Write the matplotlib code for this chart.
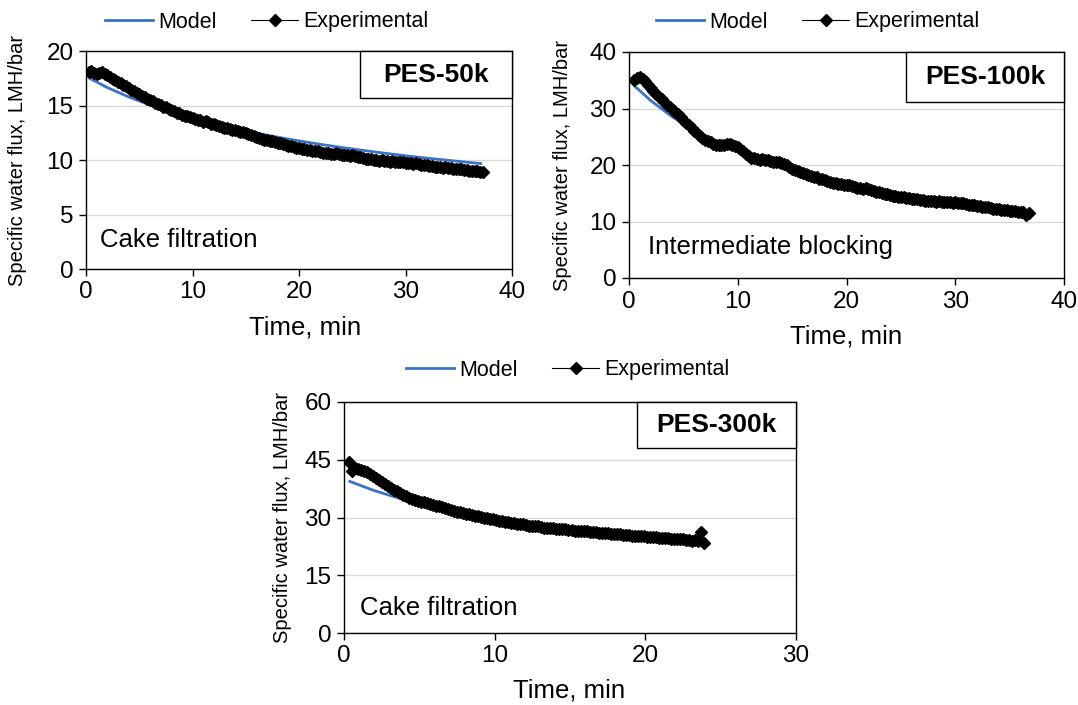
import numpy as np
import matplotlib
matplotlib.use("Agg")
import matplotlib.pyplot as plt
from matplotlib.patches import Rectangle
from matplotlib.lines import Line2D

plt.rcParams["font.family"] = ["Liberation Sans", "DejaVu Sans"]

# ---------------- data ----------------
# PES-50k: experimental flux sampled every 0.25 min from 0.25 to 37.25 min
pes50_exp_t_range = (0.25, 37.25)
pes50_exp = [
    18.10, 18.20, 18.05, 17.92, 18.02, 18.08, 17.95, 17.80,
    17.62, 17.50, 17.38, 17.22, 17.08, 16.95, 16.78, 16.62,
    16.45, 16.33, 16.18, 16.05, 15.92, 15.80, 15.66, 15.52,
    15.40, 15.30, 15.15, 15.05, 14.92, 14.85, 14.70, 14.58,
    14.50, 14.38, 14.30, 14.20, 14.10, 14.05, 13.95, 13.88,
    13.80, 13.72, 13.68, 13.55, 13.60, 13.48, 13.35, 13.30,
    13.20, 13.12, 13.08, 13.00, 12.95, 12.90, 12.82, 12.75,
    12.70, 12.62, 12.55, 12.50, 12.40, 12.30, 12.22, 12.15,
    12.05, 11.95, 11.90, 11.88, 11.80, 11.72, 11.70, 11.62,
    11.55, 11.45, 11.40, 11.35, 11.30, 11.22, 11.15, 11.10,
    11.05, 11.00, 10.98, 10.90, 10.85, 10.88, 10.80, 10.72,
    10.70, 10.65, 10.68, 10.60, 10.58, 10.62, 10.55, 10.50,
    10.52, 10.48, 10.42, 10.45, 10.38, 10.30, 10.25, 10.20,
    10.15, 10.10, 10.08, 10.02, 10.00, 9.95, 9.98, 9.92,
    9.90, 9.88, 9.92, 9.85, 9.82, 9.86, 9.80, 9.78,
    9.75, 9.72, 9.68, 9.70, 9.62, 9.60, 9.55, 9.52,
    9.48, 9.45, 9.40, 9.42, 9.38, 9.32, 9.35, 9.28,
    9.25, 9.22, 9.18, 9.20, 9.15, 9.10, 9.12, 9.05,
    9.02, 8.98, 9.00, 8.95, 8.90,
]
pes50_model_t = [0.3, 2, 4, 6, 8, 10, 12, 14, 16, 18, 20, 22, 24, 26, 28, 30, 32, 34, 36, 37.2]
pes50_model = [17.54, 16.68, 15.82, 15.08, 14.43, 13.86, 13.36, 12.90, 12.49, 12.12,
               11.77, 11.46, 11.17, 10.90, 10.65, 10.41, 10.19, 9.99, 9.79, 9.68]

# PES-100k: experimental flux sampled every 0.25 min from 0.5 to 36.75 min
pes100_exp_t_range = (0.5, 36.75)
pes100_exp = [
    35.0, 35.4, 35.6, 35.3, 34.8, 34.2, 33.6, 33.1,
    32.6, 32.1, 31.6, 31.1, 30.7, 30.2, 29.8, 29.4,
    29.0, 28.5, 28.0, 27.5, 27.0, 26.5, 26.0, 25.6,
    25.2, 24.8, 24.5, 24.2, 24.0, 23.8, 23.6, 23.5,
    23.6, 23.5, 23.7, 23.8, 23.6, 23.4, 23.2, 22.8,
    22.4, 22.0, 21.6, 21.3, 21.2, 21.0, 20.9, 21.0,
    20.8, 20.9, 20.7, 20.6, 20.5, 20.6, 20.3, 20.2,
    20.0, 19.6, 19.3, 19.1, 18.9, 18.7, 18.5, 18.4,
    18.2, 18.0, 17.9, 17.8, 17.6, 17.5, 17.4, 17.2,
    17.0, 16.9, 16.8, 16.7, 16.6, 16.5, 16.4, 16.5,
    16.3, 16.1, 16.0, 15.9, 15.8, 15.9, 15.7, 15.5,
    15.4, 15.3, 15.2, 15.0, 14.9, 14.8, 14.7, 14.6,
    14.5, 14.4, 14.3, 14.3, 14.2, 14.1, 14.0, 14.0,
    13.9, 13.8, 13.8, 13.7, 13.7, 13.6, 13.6, 13.5,
    13.6, 13.5, 13.4, 13.5, 13.4, 13.3, 13.4, 13.3,
    13.2, 13.2, 13.1, 13.0, 12.9, 12.9, 12.8, 12.7,
    12.6, 12.5, 12.5, 12.4, 12.3, 12.3, 12.2, 12.1,
    12.0, 12.0, 11.9, 11.8, 11.8, 11.7, 11.6, 11.6,
    11.2, 11.5,
]
pes100_model_t = [0.5, 2, 4, 6, 8, 10, 12, 14, 16, 18, 20, 22, 24, 26, 28, 30, 32, 34, 36, 36.7]
pes100_model = [34.0, 31.4, 28.5, 26.0, 24.0, 22.4, 21.0, 19.8, 18.6, 17.6,
                16.7, 15.9, 15.1, 14.4, 13.9, 13.4, 12.9, 12.4, 11.9, 11.7]

# PES-300k: experimental flux sampled every 0.2 min from 0.3 to 23.9 min
pes300_exp_t_range = (0.3, 23.9)
pes300_exp = [
    44.3, 42.2, 42.8, 42.6, 42.3, 42.0, 41.7, 41.2, 40.8, 40.3,
    39.8, 39.2, 38.7, 38.2, 37.7, 37.2, 36.8, 36.3, 35.9, 35.5,
    35.1, 34.8, 34.5, 34.3, 34.1, 33.9, 33.7, 33.5, 33.3, 33.1,
    32.9, 32.6, 32.4, 32.2, 32.0, 31.7, 31.5, 31.3, 31.1, 30.9,
    30.8, 30.6, 30.5, 30.3, 30.2, 30.0, 29.9, 29.7, 29.6, 29.4,
    29.2, 29.0, 28.9, 28.8, 28.6, 28.5, 28.4, 28.3, 28.2, 28.0,
    27.9, 27.8, 27.7, 27.7, 27.5, 27.4, 27.4, 27.3, 27.2, 27.1,
    27.0, 27.0, 26.9, 26.8, 26.7, 26.6, 26.6, 26.5, 26.4, 26.4,
    26.3, 26.2, 26.2, 26.1, 26.0, 25.9, 25.9, 25.8, 25.7, 25.7,
    25.6, 25.5, 25.5, 25.4, 25.3, 25.3, 25.2, 25.1, 25.1, 25.0,
    25.0, 24.9, 24.9, 24.8, 24.7, 24.7, 24.6, 24.5, 24.5, 24.4,
    24.3, 24.3, 24.2, 24.1, 24.0, 24.2, 24.0, 26.2, 23.5,
]
pes300_model_t = [0.3, 2, 4, 6, 8, 10, 12, 14, 16, 18, 20, 22, 24]
pes300_model = [39.5, 37.0, 34.58, 32.59, 30.90, 29.46, 28.19, 27.08, 26.09, 25.20, 24.40, 23.67, 23.00]

# ---------------- layout ----------------
MODEL_COLOR = "#3a73c4"
W, H = 1078, 705
fig = plt.figure(figsize=(W / 100, H / 100), dpi=100)

panels = [
    dict(rect=(86, 51.4, 512, 269), membrane="PES-50k", mech="Cake filtration",
         exp=pes50_exp, trange=pes50_exp_t_range, mt=pes50_model_t, mv=pes50_model,
         xlim=(0, 40), xticks=[0, 10, 20, 30, 40], ylim=(0, 20), yticks=[0, 5, 10, 15, 20],
         box=(0.643, 0.785), mech_pos=(0.033, 0.133), ylab_x=-0.16, xlab=(0.515, -0.27),
         leg=(267, 22)),
    dict(rect=(629, 52, 1064, 278), membrane="PES-100k", mech="Intermediate blocking",
         exp=pes100_exp, trange=pes100_exp_t_range, mt=pes100_model_t, mv=pes100_model,
         xlim=(0, 40), xticks=[0, 10, 20, 30, 40], ylim=(0, 40), yticks=[0, 10, 20, 30, 40],
         box=(0.637, 0.78), mech_pos=(0.044, 0.137), ylab_x=-0.152, xlab=(0.5, -0.26),
         leg=(818, 22)),
    dict(rect=(344, 402, 796, 633), membrane="PES-300k", mech="Cake filtration",
         exp=pes300_exp, trange=pes300_exp_t_range, mt=pes300_model_t, mv=pes300_model,
         xlim=(0, 30), xticks=[0, 10, 20, 30], ylim=(0, 60), yticks=[0, 15, 30, 45, 60],
         box=(0.648, 0.80), mech_pos=(0.035, 0.108), ylab_x=-0.135, xlab=(0.497, -0.247),
         leg=(568, 370)),
]

TICK_FS = 17.5
LEG_FS = 15.5
XLAB_FS = 18.5

for p in panels:
    x0, y0, x1, y1 = p["rect"]
    ax = fig.add_axes([x0 / W, 1 - y1 / H, (x1 - x0) / W, (y1 - y0) / H])

    t_exp = np.linspace(p["trange"][0], p["trange"][1], len(p["exp"]))
    ax.plot(p["mt"], p["mv"], color=MODEL_COLOR, lw=2.0, zorder=3, solid_capstyle="butt")
    ax.plot(t_exp, p["exp"], color="black", lw=0.8, marker="D", ms=6.5,
            mec="black", mfc="black", zorder=4)

    ax.set_xlim(*p["xlim"])
    ax.set_ylim(*p["ylim"])
    ax.set_xticks(p["xticks"])
    ax.set_yticks(p["yticks"])
    ax.tick_params(direction="out", length=5, width=1, labelsize=TICK_FS, pad=4, color="black")
    ax.grid(axis="y", color="#d9d9d9", lw=1)
    ax.set_axisbelow(True)
    for s in ax.spines.values():
        s.set_color("black")
        s.set_linewidth(1.0)

    ax.set_xlabel("Time, min", fontsize=XLAB_FS)
    ax.xaxis.set_label_coords(*p["xlab"])
    ax.xaxis.label.set_va("center")
    ax.set_ylabel("Specific water flux, LMH/bar", fontsize=14.5)
    ax.yaxis.set_label_coords(p["ylab_x"], 0.5)
    ax.yaxis.label.set_va("center")

    bx, by = p["box"]
    ax.add_patch(Rectangle((bx, by), 1 - bx, 1 - by, transform=ax.transAxes,
                           facecolor="white", edgecolor="black", lw=1.0, zorder=6,
                           clip_on=False))
    ax.text((bx + 1) / 2, (by + 1) / 2, p["membrane"], transform=ax.transAxes,
            ha="center", va="center", fontsize=19, fontweight="bold", zorder=7)
    ax.text(p["mech_pos"][0], p["mech_pos"][1], p["mech"], transform=ax.transAxes,
            ha="left", va="center", fontsize=18.5, zorder=7)

    handles = [
        Line2D([], [], color=MODEL_COLOR, lw=2.0),
        Line2D([], [], color="black", lw=0.8, marker="D", ms=6),
    ]
    lx, ly = p["leg"]
    fig.legend(handles, ["Model", "Experimental"], loc="center",
               bbox_to_anchor=(lx / W, 1 - ly / H), ncol=2, frameon=False,
               fontsize=LEG_FS, handlelength=2.2, handletextpad=0.25,
               columnspacing=1.6, numpoints=1, borderpad=0)

fig.savefig("out.png", dpi=100, facecolor="white")
